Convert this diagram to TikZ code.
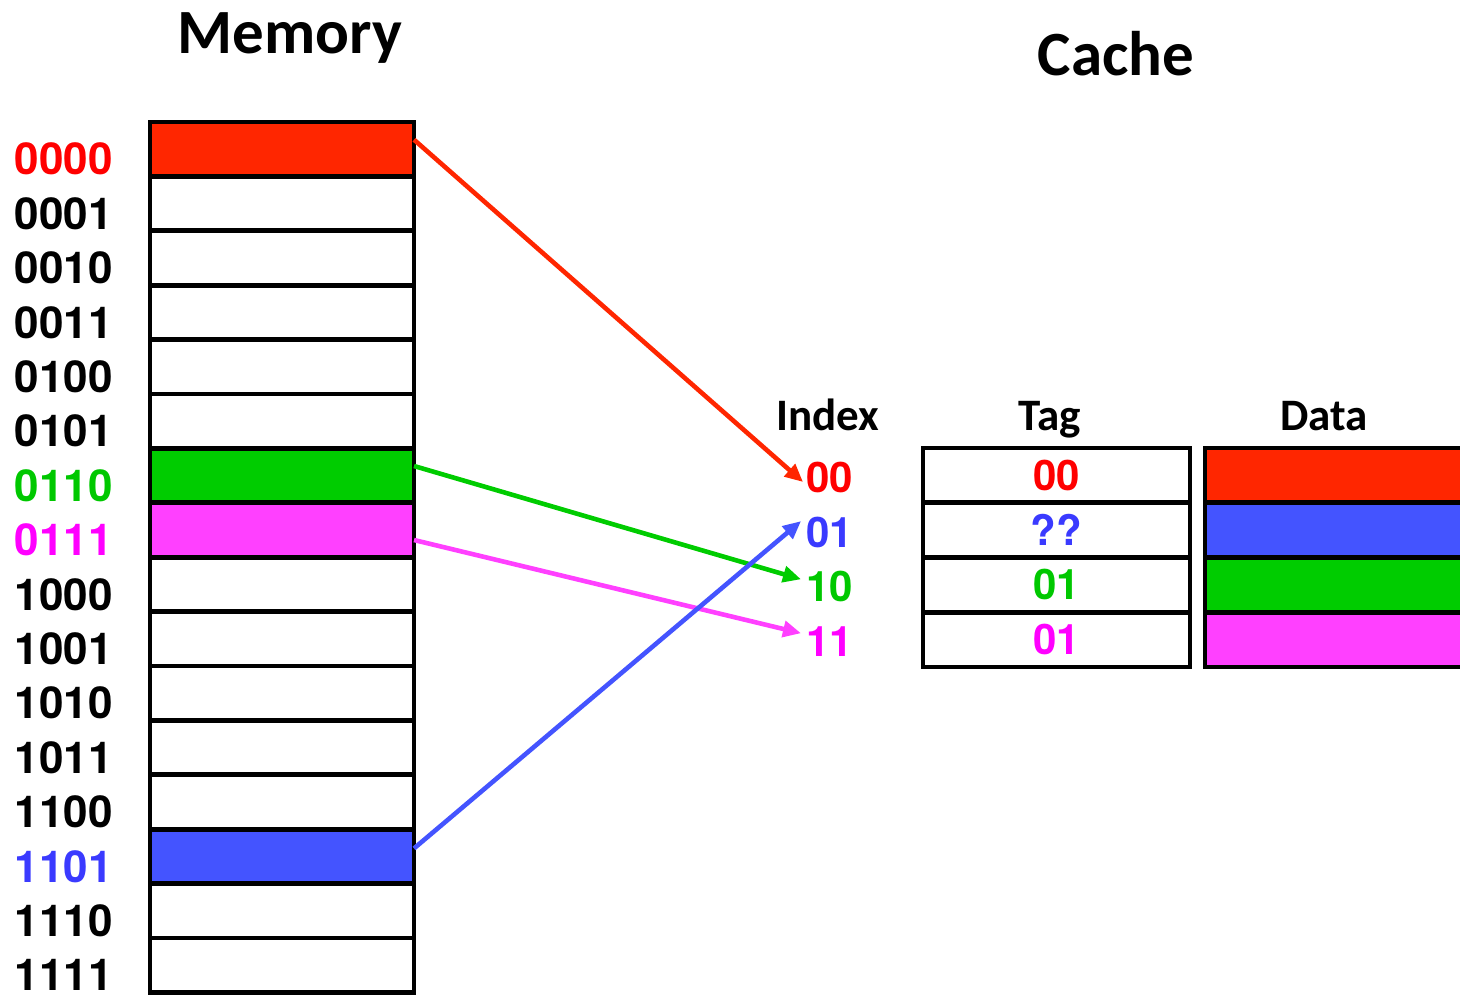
\documentclass[tikz,border=0pt]{standalone}
\usepackage{fontspec}
\setmainfont{TeX Gyre Heros}
\newfontfamily\digitfont{TeX Gyre Heros}
\newfontfamily\titlefont{Carlito}
\usetikzlibrary{arrows.meta}

\definecolor{fillred}{RGB}{255,38,0}
\definecolor{fillblue}{RGB}{68,84,255}
\definecolor{fillgreen}{RGB}{0,204,0}
\definecolor{fillmag}{RGB}{255,64,255}
\definecolor{txtred}{RGB}{255,0,0}
\definecolor{txtblue}{RGB}{58,58,255}
\definecolor{txtgreen}{RGB}{0,200,0}
\definecolor{txtmag}{RGB}{255,0,255}

\tikzset{
  memcell/.style={draw=black, line width=2.4pt, rectangle, inner sep=0pt, outer sep=0pt,
    minimum width=132pt, minimum height=27.2pt},
  tagcell/.style={draw=black, line width=2.4pt, rectangle, inner sep=0pt, outer sep=0pt,
    minimum width=133.5pt, minimum height=27.4pt,
    font=\digitfont\fontsize{21pt}{24pt}\selectfont\bfseries},
  datacell/.style={draw=black, line width=2.4pt, rectangle, inner sep=0pt, outer sep=0pt,
    minimum width=150pt, minimum height=27.4pt},
  addr/.style={inner sep=0pt, anchor=east, font=\digitfont\fontsize{22pt}{24pt}\selectfont\bfseries},
  idx/.style={inner sep=0pt, anchor=west, font=\digitfont\fontsize{21pt}{24pt}\selectfont\bfseries},
  bigtitle/.style={inner sep=0pt, anchor=base, font=\titlefont\fontsize{31.5pt}{34pt}\selectfont\bfseries},
  colhead/.style={inner sep=0pt, anchor=base, font=\titlefont\fontsize{22.5pt}{25pt}\selectfont\bfseries},
  conn/.style={line width=2.3pt, -{Triangle[length=9pt,width=8pt]}}
}

\begin{document}
\begin{tikzpicture}[x=0.5pt,y=-0.5pt]
  \useasboundingbox (0,0) rectangle (1460,997);
  \clip (0,0) rectangle (1460,997);

  % titles
  \node[bigtitle] (memtitle) at (290,53) {Memory};
  \node[bigtitle] (cachetitle) at (1116,75) {Cache};

  % memory blocks
  \foreach \i/\c in {0/fillred,1/white,2/white,3/white,4/white,5/white,6/fillgreen,7/fillmag,
                     8/white,9/white,10/white,11/white,12/white,13/fillblue,14/white,15/white}
    \node[memcell, fill=\c] (m\i) at (282,{122+54.4*(\i+0.5)}) {};

  % addresses
  \foreach \i/\t/\c in {0/0000/txtred,1/0001/black,2/0010/black,3/0011/black,
                        4/0100/black,5/0101/black,6/0110/txtgreen,7/0111/txtmag,
                        8/1000/black,9/1001/black,10/1010/black,11/1011/black,
                        12/1100/black,13/1101/txtblue,14/1110/black,15/1111/black}
    \node[addr, text=\c] (a\i) at ([xshift=-18.5pt,yshift=-5pt]m\i.west) {\t};

  % cache headers
  \node[colhead] (hidx) at (828,430) {Index};
  \node[colhead] (htag) at (1050,430) {Tag};
  \node[colhead] (hdata) at (1324,430) {Data};

  % cache rows
  \foreach \k/\t/\c/\f in {0/00/txtred/fillred,1/??/txtblue/fillblue,
                           2/01/txtgreen/fillgreen,3/01/txtmag/fillmag}{
    \node[tagcell, text=\c] (t\k) at (1056.5,{448+54.75*(\k+0.5)}) {\t};
    \node[datacell, fill=\f] (d\k) at (1355,{448+54.75*(\k+0.5)}) {};
  }

  % index labels
  \node[idx, text=txtred] (i0) at (806,{448+54.75*0.5+2}) {00};
  \node[idx, text=txtblue] (i1) at (806,{448+54.75*1.5+2}) {01};
  \node[idx, text=txtgreen] (i2) at (806,{448+54.75*2.5+2}) {10};
  \node[idx, text=txtmag] (i3) at (806,{448+54.75*3.5+2}) {11};

  % mapping arrows
  \draw[conn, fillred] ([yshift=4.75pt]m0.east) -- ([xshift=-1.5pt,yshift=-2.3pt]i0.west);
  \draw[conn, fillgreen] ([yshift=4.8pt]m6.east) -- ([xshift=-2.5pt,yshift=3.8pt]i2.west);
  \draw[conn, fillmag] ([yshift=-5pt]m7.east) -- ([xshift=-2.5pt,yshift=4.2pt]i3.west);
  \draw[conn, fillblue] ([yshift=4pt]m13.east) -- ([xshift=-2.5pt,yshift=5.5pt]i1.west);
\end{tikzpicture}
\end{document}
